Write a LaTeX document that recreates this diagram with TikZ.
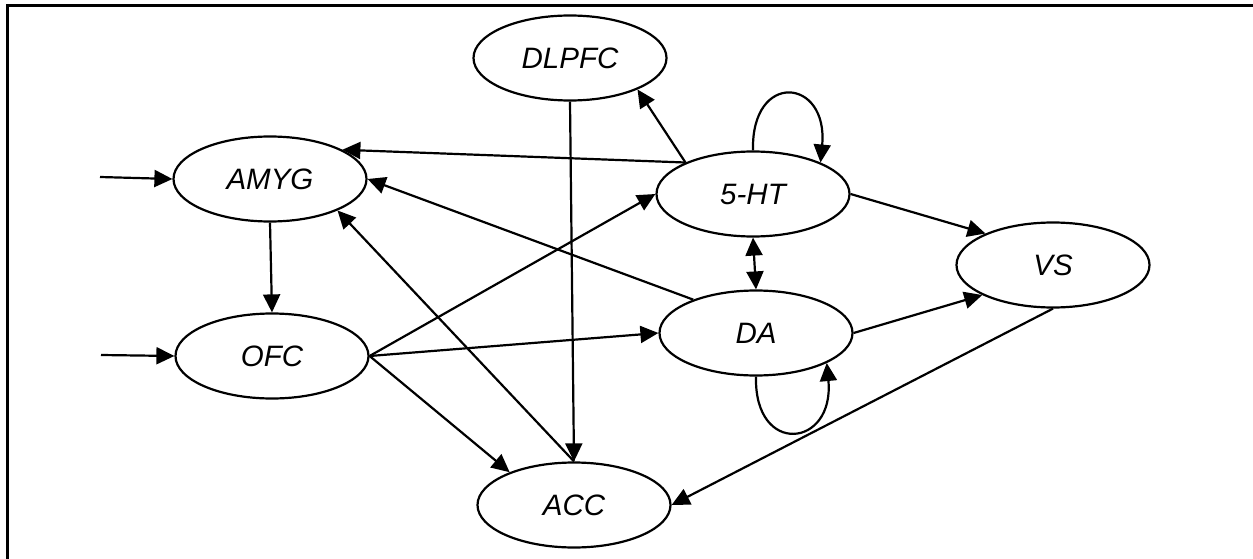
\documentclass[tikz,border=0pt]{standalone}
\usepackage{fontspec}
\setmainfont{Liberation Sans}
\usetikzlibrary{arrows.meta,shapes.geometric}
\begin{document}
\begin{tikzpicture}[x=1pt,y=-1pt,
  region/.style={draw,ellipse,line width=2.2pt,minimum width=193pt,minimum height=85pt,
    inner sep=0pt,font=\fontsize{29.5}{34}\selectfont\itshape},
  link/.style={line width=2.2pt,-{Triangle[length=18pt,width=17pt]}},
  both/.style={line width=2.2pt,{Triangle[length=18pt,width=17pt]}-{Triangle[length=18pt,width=17pt]}},
  frame/.style={line width=3pt}]
\useasboundingbox (0,0) rectangle (1253,559);
% outer frame (left and top edges)
\draw[frame] (7,559) -- (7,6) -- (1253,6);

% brain regions
\node[region] (AMYG)  at (270,179) {AMYG};
\node[region] (OFC)   at (272,356) {OFC};
\node[region] (DLPFC) at (570,58)  {DLPFC};
\node[region] (HT)    at (753,194) {5-HT};
\node[region] (DA)    at (756,333) {DA};
\node[region] (VS)    at (1053,265) {VS};
\node[region] (ACC)   at (574,505) {ACC};

% external inputs
\coordinate (inA) at (100,177);
\coordinate (inO) at (101,355);
\draw[link] (inA) -- (AMYG.west);
\draw[link] (inO) -- (OFC.west);

% projections
\draw[link] (AMYG.south) -- (OFC.north);
\draw[link] (HT.155) -- (AMYG.22);
\draw[link] (HT.155) -- (DLPFC.-25);
\draw[link] (HT.north) .. controls +(-2,-80) and +(8,-85) .. (HT.25);
\draw[link] (DA.152) -- (AMYG.east);
\draw[link] (ACC.north) -- (AMYG.-25);
\draw[link] (OFC.east) -- (HT.west);
\draw[link] (OFC.east) -- (DA.west);
\draw[link] (OFC.east) -- (ACC.153);
\draw[link] (DLPFC.south) -- (ACC.north);
\draw[both] (HT.south) -- (DA.north);
\draw[link] (HT.east) -- (VS.155);
\draw[link] (DA.east) -- (VS.203);
\draw[link] (VS.south) -- (ACC.east);
\draw[link] (DA.south) .. controls +(-2,80) and +(8,85) .. (DA.-23);
\end{tikzpicture}
\end{document}
